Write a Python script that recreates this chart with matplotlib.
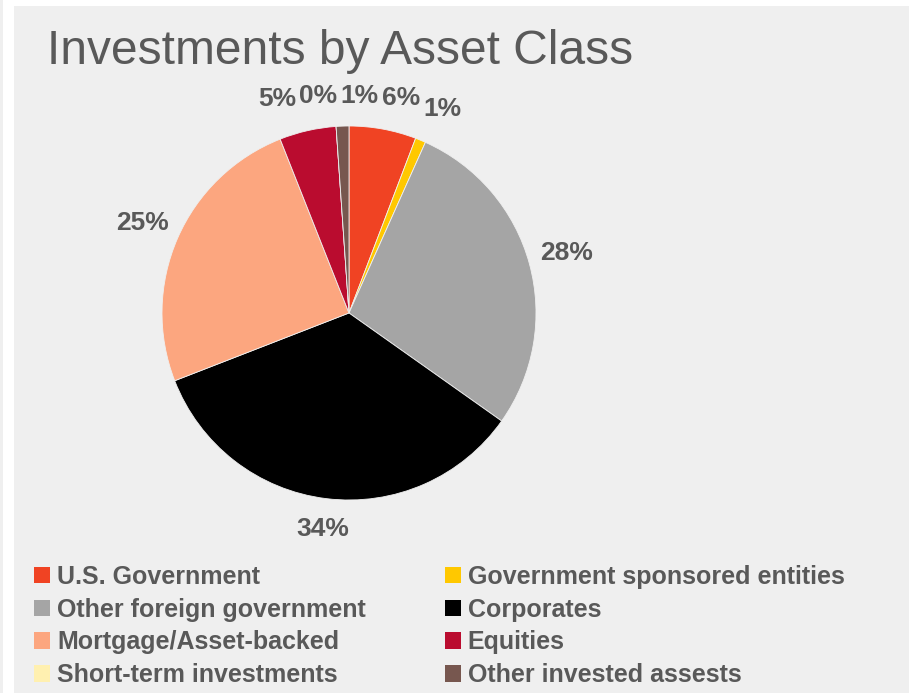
import numpy as np
import matplotlib.pyplot as plt
from matplotlib.patches import Rectangle

plt.rcParams['font.family'] = ['Liberation Sans', 'DejaVu Sans']

# Share of the portfolio by asset class (%)
classes = ['U.S. Government', 'Government sponsored entities', 'Other foreign government',
           'Corporates', 'Mortgage/Asset-backed', 'Equities', 'Short-term investments',
           'Other invested assests']
shares = [5.8, 0.9, 28.1, 34.3, 24.9, 4.9, 0.0, 1.1]
colors = ['#F04323', '#FFC800', '#A5A5A5', '#000000', '#FCA67F', '#BA0C2F', '#FFF0B0', '#77574F']

text_color = '#595959'
panel = '#EFEFEF'

fig = plt.figure(figsize=(9.09, 6.93), dpi=100)
fig.patch.set_facecolor('white')

# grey panel behind the chart, thin strip on the far left
fig.patches.append(Rectangle((14 / 909, 0), 1, 1 - 6 / 693, transform=fig.transFigure,
                             facecolor=panel, edgecolor='none', zorder=-1))
fig.patches.append(Rectangle((0, 0), 3 / 909, 1, transform=fig.transFigure,
                             facecolor=panel, edgecolor='none', zorder=-1))

fig.text(47 / 909, 1 - 52 / 693, 'Investments by Asset Class', fontsize=34.5,
         color=text_color, va='center', ha='left')

# pie centred at (349, 313) px with radius ~187 px
r = 187
cx, cy = 349, 313
ax = fig.add_axes([(cx - r) / 909, 1 - (cy + r) / 693, 2 * r / 909, 2 * r / 693])
ax.set_facecolor('none')
wedges, texts, autotexts = ax.pie(
    shares, colors=colors, startangle=90, counterclock=False,
    autopct=lambda p: '%.0f%%' % p, pctdistance=1.2,
    wedgeprops=dict(linewidth=0.6, edgecolor=panel),
    textprops=dict(fontsize=19, fontweight='bold', color=text_color))
ax.set_xlim(-1, 1)
ax.set_ylim(-1, 1)
ax.set_aspect('equal')

# "outside end" labels: wider gap on the sides than at top/bottom
for w, t in zip(wedges, autotexts):
    mid = np.deg2rad((w.theta1 + w.theta2) / 2)
    d = 1.16 + 0.05 * abs(np.cos(mid))
    t.set_position((d * np.cos(mid), d * np.sin(mid)))
    t.set_clip_on(False)

# push crowded labels apart sideways
fig.canvas.draw()
renderer = fig.canvas.get_renderer()
gap = 3
for _ in range(30):
    boxes = [t.get_window_extent(renderer) for t in autotexts]
    moved = False
    for i in range(len(autotexts)):
        for j in range(i + 1, len(autotexts)):
            a, b = boxes[i], boxes[j]
            if a.y0 >= b.y1 or b.y0 >= a.y1:
                continue
            ov = min(a.x1, b.x1) - max(a.x0, b.x0) + gap
            if ov <= 0:
                continue
            left, right = (i, j) if a.x0 + a.x1 < b.x0 + b.x1 else (j, i)
            for k, s in ((left, -1), (right, 1)):
                x, y = autotexts[k].get_position()
                autotexts[k].set_position((x + s * ov / 2 / r, y))
            moved = True
            boxes = [t.get_window_extent(renderer) for t in autotexts]
    if not moved:
        break

# legend filled row by row (matplotlib fills by column)
order = [0, 2, 4, 6, 1, 3, 5, 7]
handles = [Rectangle((0, 0), 1, 1, facecolor=colors[i], edgecolor='none') for i in order]
labels = [classes[i] for i in order]
fig.legend(handles, labels, ncol=2, loc='upper left',
           bbox_to_anchor=(34 / 909, 1 - 565 / 693), frameon=False,
           prop=dict(size=18, weight='bold'), labelcolor=text_color,
           handlelength=0.64, handleheight=0.64, handletextpad=0.28,
           columnspacing=3.16, labelspacing=0.35, borderaxespad=0, borderpad=0)

fig.savefig('out.png', dpi=100, facecolor=fig.get_facecolor())
